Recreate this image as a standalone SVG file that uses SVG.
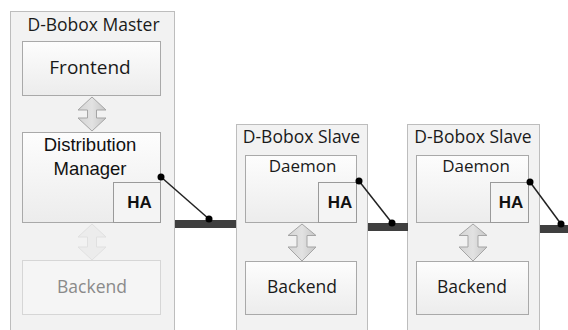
<svg xmlns="http://www.w3.org/2000/svg" width="568" height="330" viewBox="0 0 568 330">
<defs>
<linearGradient id="boxg" x1="0" y1="0" x2="0" y2="1">
<stop offset="0" stop-color="#fdfdfd"/><stop offset="1" stop-color="#ececec"/>
</linearGradient>
<linearGradient id="arrg" x1="0" y1="0" x2="1" y2="0">
<stop offset="0" stop-color="#d4d4d4"/><stop offset="0.5" stop-color="#e2e2e2"/><stop offset="1" stop-color="#c6c6c6"/>
</linearGradient>
<style>
.cont{fill:#f2f2f2;stroke:#bdbdbd;stroke-width:1}
.box{fill:url(#boxg);stroke:#a9a9a9;stroke-width:1}
.fbox{fill:#f5f5f5;stroke:#d6d6d6;stroke-width:1}
.ha{fill:#f4f4f4;stroke:#9a9a9a;stroke-width:1}
.arr{fill:url(#arrg);stroke:#a5a5a5;stroke-width:1}
.farr{fill:#ececec;stroke:#e0e0e0;stroke-width:1}
.t{font-family:"Open Sans","Noto Sans",sans-serif;fill:#1a1a1a;text-anchor:middle}
.a{font-family:"Liberation Sans",Arial,sans-serif;fill:#111;text-anchor:middle}
.hat{font-family:"Liberation Sans",Arial,sans-serif;font-weight:bold;font-size:17px;fill:#111;text-anchor:middle}
.bar{fill:#3f3f3f}
.ln{stroke:#222;stroke-width:1.5;fill:none}
.dot{fill:#000}
</style>
</defs>

<g id="master">
<rect class="cont" x="10.5" y="11.5" width="164" height="330"/>
<text class="t" x="93.5" y="31" font-size="17.5">D-Bobox Master</text>
</g>
<g id="frontend">
<rect class="box" x="22.5" y="41.5" width="138" height="54"/>
<text class="t" x="90" y="74" font-size="19">Frontend</text>
</g>
<g id="distribution-manager">
<rect class="box" x="22.5" y="132.5" width="138" height="90"/>
<text class="a" x="90" y="151" font-size="18.5">Distribution</text>
<text class="a" x="90" y="175" font-size="18.5">Manager</text>
</g>
<g id="master-ha">
<rect class="ha" x="113.5" y="182.5" width="47" height="40"/>
<text class="hat" x="139.5" y="208">HA</text>
</g>
<g id="master-backend">
<rect class="fbox" x="22.5" y="260.5" width="138" height="54"/>
<text class="t" x="92" y="293" font-size="17.5" style="fill:#8a8a8a">Backend</text>
</g>

<g id="slave1">
<rect class="cont" x="236.5" y="124.5" width="131" height="220"/>
<text class="t" x="301.5" y="143" font-size="17.5">D-Bobox Slave</text>
</g>
<g id="slave1-daemon">
<rect class="box" x="245.5" y="155.5" width="111" height="67"/>
<text class="t" x="302.5" y="172" font-size="17">Daemon</text>
</g>
<g id="slave1-ha">
<rect class="ha" x="318.5" y="182.5" width="38" height="40"/>
<text class="hat" x="340" y="208">HA</text>
</g>
<g id="slave1-backend">
<rect class="box" x="245.5" y="261.5" width="111" height="53"/>
<text class="t" x="302" y="293" font-size="17.5">Backend</text>
</g>

<g id="slave2">
<rect class="cont" x="407.5" y="124.5" width="132" height="220"/>
<text class="t" x="473" y="143" font-size="17.5">D-Bobox Slave</text>
</g>
<g id="slave2-daemon">
<rect class="box" x="416.5" y="155.5" width="112" height="67"/>
<text class="t" x="476" y="172" font-size="17">Daemon</text>
</g>
<g id="slave2-ha">
<rect class="ha" x="490.5" y="182.5" width="38" height="40"/>
<text class="hat" x="511" y="208">HA</text>
</g>
<g id="slave2-backend">
<rect class="box" x="416.5" y="261.5" width="112" height="53"/>
<text class="t" x="472" y="293" font-size="17.5">Backend</text>
</g>

<g id="connectors">
<path class="arr" d="M92,97 L106,110 L96.5,110 L96.5,118 L106,118 L92,131 L78,118 L87.5,118 L87.5,110 L78,110 Z"/>
<path class="farr" d="M92,224 L106,237 L96.5,237 L96.5,247 L106,247 L92,260 L78,247 L87.5,247 L87.5,237 L78,237 Z"/>
<path class="arr" d="M302,224 L316,235.5 L307,235.5 L307,247 L316,247 L302,261 L288,247 L297,247 L297,235.5 L288,235.5 Z"/>
<path class="arr" d="M473,224 L487,235.5 L478,235.5 L478,247 L487,247 L473,261 L459,247 L468,247 L468,235.5 L459,235.5 Z"/>

<rect class="bar" x="175" y="220" width="61" height="8"/>
<rect class="bar" x="368" y="223" width="40" height="8"/>
<rect class="bar" x="540" y="225" width="28" height="8"/>

<line class="ln" x1="161" y1="177" x2="209" y2="219"/>
<circle class="dot" cx="161" cy="177" r="3.5"/>
<circle class="dot" cx="209" cy="219" r="3.5"/>
<line class="ln" x1="359" y1="181" x2="392" y2="223"/>
<circle class="dot" cx="359" cy="181" r="3.5"/>
<circle class="dot" cx="392" cy="223" r="3.5"/>
<line class="ln" x1="530" y1="182" x2="561" y2="224"/>
<circle class="dot" cx="530" cy="182" r="3.5"/>
<circle class="dot" cx="561" cy="224" r="3.5"/>
</g>
</svg>
